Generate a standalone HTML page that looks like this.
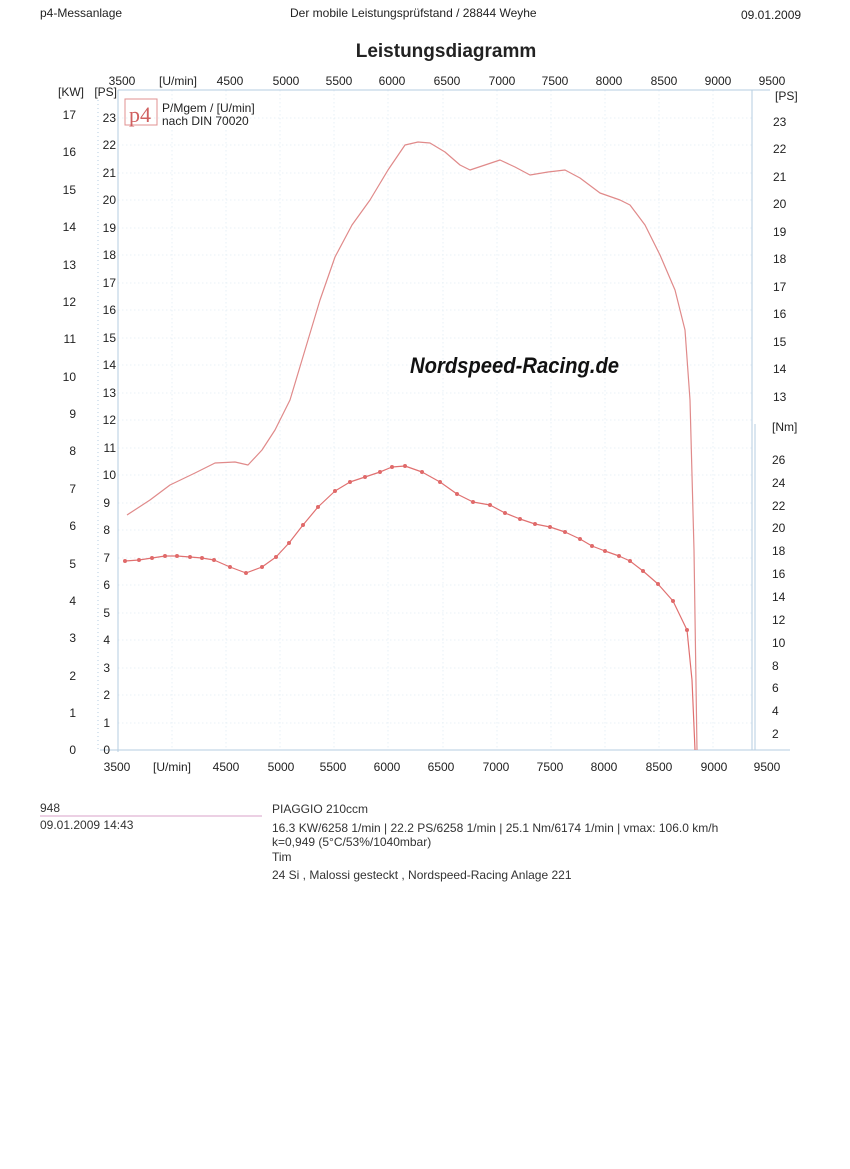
<!DOCTYPE html>
<html><head><meta charset="utf-8"><style>
body{margin:0;background:#fff;}
svg{display:block;font-family:"Liberation Sans",sans-serif;}
</style></head><body>
<svg width="850" height="1169" viewBox="0 0 850 1169" xmlns="http://www.w3.org/2000/svg">
<rect width="850" height="1169" fill="#fff"/>
<g font-size="12" fill="#222">
<text x="40" y="17">p4-Messanlage</text>
<text x="290" y="17">Der mobile Leistungsprüfstand  / 28844 Weyhe</text>
<text x="741" y="19">09.01.2009</text>
</g>
<text x="446" y="57" font-size="19" font-weight="bold" text-anchor="middle" fill="#222">Leistungsdiagramm</text>
<g stroke="#e2edf5" stroke-width="0.8" stroke-dasharray="1.5,2.5">
<line x1="172" y1="90" x2="172" y2="750"/><line x1="226" y1="90" x2="226" y2="750"/><line x1="280" y1="90" x2="280" y2="750"/><line x1="334" y1="90" x2="334" y2="750"/><line x1="388" y1="90" x2="388" y2="750"/><line x1="443" y1="90" x2="443" y2="750"/><line x1="497" y1="90" x2="497" y2="750"/><line x1="551" y1="90" x2="551" y2="750"/><line x1="605" y1="90" x2="605" y2="750"/><line x1="659" y1="90" x2="659" y2="750"/><line x1="713" y1="90" x2="713" y2="750"/>
<line x1="118" y1="723" x2="752" y2="723"/><line x1="118" y1="695" x2="752" y2="695"/><line x1="118" y1="668" x2="752" y2="668"/><line x1="118" y1="640" x2="752" y2="640"/><line x1="118" y1="613" x2="752" y2="613"/><line x1="118" y1="585" x2="752" y2="585"/><line x1="118" y1="558" x2="752" y2="558"/><line x1="118" y1="530" x2="752" y2="530"/><line x1="118" y1="503" x2="752" y2="503"/><line x1="118" y1="475" x2="752" y2="475"/><line x1="118" y1="448" x2="752" y2="448"/><line x1="118" y1="420" x2="752" y2="420"/><line x1="118" y1="393" x2="752" y2="393"/><line x1="118" y1="365" x2="752" y2="365"/><line x1="118" y1="338" x2="752" y2="338"/><line x1="118" y1="310" x2="752" y2="310"/><line x1="118" y1="283" x2="752" y2="283"/><line x1="118" y1="255" x2="752" y2="255"/><line x1="118" y1="228" x2="752" y2="228"/><line x1="118" y1="200" x2="752" y2="200"/><line x1="118" y1="173" x2="752" y2="173"/><line x1="118" y1="145" x2="752" y2="145"/><line x1="118" y1="118" x2="752" y2="118"/>
</g>
<g stroke="#b5cde0" stroke-width="1" fill="none">
<line x1="118" y1="90" x2="770" y2="90"/>
<line x1="118" y1="90" x2="118" y2="752"/>
<line x1="100" y1="750" x2="790" y2="750"/>
<line x1="752" y1="90" x2="752" y2="750"/>
<line x1="755" y1="424" x2="755" y2="750"/>
<line x1="98" y1="100" x2="98" y2="750" stroke-dasharray="1,3"/>
</g>
<g font-size="12" fill="#222" text-anchor="middle">
<text x="122" y="85">3500</text><text x="178" y="85">[U/min]</text><text x="230" y="85">4500</text><text x="286" y="85">5000</text><text x="339" y="85">5500</text><text x="392" y="85">6000</text><text x="447" y="85">6500</text><text x="502" y="85">7000</text><text x="555" y="85">7500</text><text x="609" y="85">8000</text><text x="664" y="85">8500</text><text x="718" y="85">9000</text><text x="772" y="85">9500</text>
<text x="117" y="771">3500</text><text x="172" y="771">[U/min]</text><text x="226" y="771">4500</text><text x="281" y="771">5000</text><text x="333" y="771">5500</text><text x="387" y="771">6000</text><text x="441" y="771">6500</text><text x="496" y="771">7000</text><text x="550" y="771">7500</text><text x="604" y="771">8000</text><text x="659" y="771">8500</text><text x="714" y="771">9000</text><text x="767" y="771">9500</text>
</g>
<g font-size="12" fill="#222" text-anchor="end">
<text x="84" y="96">[KW]</text><text x="117" y="96">[PS]</text>
<text x="76" y="754">0</text><text x="76" y="717">1</text><text x="76" y="680">2</text><text x="76" y="642">3</text><text x="76" y="605">4</text><text x="76" y="568">5</text><text x="76" y="530">6</text><text x="76" y="493">7</text><text x="76" y="455">8</text><text x="76" y="418">9</text><text x="76" y="381">10</text><text x="76" y="343">11</text><text x="76" y="306">12</text><text x="76" y="269">13</text><text x="76" y="231">14</text><text x="76" y="194">15</text><text x="76" y="156">16</text><text x="76" y="119">17</text>
<text x="110" y="754">0</text><text x="110" y="727">1</text><text x="110" y="699">2</text><text x="110" y="672">3</text><text x="110" y="644">4</text><text x="110" y="617">5</text><text x="110" y="589">6</text><text x="110" y="562">7</text><text x="110" y="534">8</text><text x="110" y="507">9</text><text x="116" y="479">10</text><text x="116" y="452">11</text><text x="116" y="424">12</text><text x="116" y="397">13</text><text x="116" y="369">14</text><text x="116" y="342">15</text><text x="116" y="314">16</text><text x="116" y="287">17</text><text x="116" y="259">18</text><text x="116" y="232">19</text><text x="116" y="204">20</text><text x="116" y="177">21</text><text x="116" y="149">22</text><text x="116" y="122">23</text>
</g>
<g font-size="12" fill="#222">
<text x="775" y="100">[PS]</text>
<text x="773" y="401">13</text><text x="773" y="373">14</text><text x="773" y="346">15</text><text x="773" y="318">16</text><text x="773" y="291">17</text><text x="773" y="263">18</text><text x="773" y="236">19</text><text x="773" y="208">20</text><text x="773" y="181">21</text><text x="773" y="153">22</text><text x="773" y="126">23</text>
<text x="772" y="431">[Nm]</text>
<text x="772" y="738">2</text><text x="772" y="715">4</text><text x="772" y="692">6</text><text x="772" y="670">8</text><text x="772" y="647">10</text><text x="772" y="624">12</text><text x="772" y="601">14</text><text x="772" y="578">16</text><text x="772" y="555">18</text><text x="772" y="532">20</text><text x="772" y="510">22</text><text x="772" y="487">24</text><text x="772" y="464">26</text>
</g>
<rect x="125" y="99" width="32" height="26" fill="none" stroke="#e09090"/>
<text x="129" y="122" font-family="Liberation Serif,serif" font-size="22" fill="#d06060">p4</text>
<text x="162" y="112" font-size="12" fill="#222">P/Mgem / [U/min]</text>
<text x="162" y="125" font-size="12" fill="#222">nach DIN 70020</text>
<text x="410" y="373" font-size="22" font-style="italic" font-weight="bold" fill="#111" transform="scale(0.92,1)" style="transform-origin:410px 373px">Nordspeed-Racing.de</text>
<polyline fill="none" stroke="#e08a8a" stroke-width="1.2" stroke-linejoin="round" points="127,515 150,500 170,485 195,473 215,463 235,462 248,465 262,450 275,430 290,400 305,350 320,300 335,257 352,225 370,200 388,170 405,145 418,142 430,143 445,152 460,165 470,170 485,165 500,160 515,167 530,175 548,172 565,170 580,178 600,193 620,200 630,205 645,225 660,255 675,290 685,330 690,400 694,550 697,750"/>
<polyline fill="none" stroke="#e07070" stroke-width="1.2" stroke-linejoin="round" points="125,561 139,560 152,558 165,556 177,556 190,557 202,558 214,560 230,567 246,573 262,567 276,557 289,543 303,525 318,507 335,491 350,482 365,477 380,472 392,467 405,466 422,472 440,482 457,494 473,502 490,505 505,513 520,519 535,524 550,527 565,532 580,539 592,546 605,551 619,556 630,561 643,571 658,584 673,601 687,630 692,680 695,750"/>
<g fill="#e06a6a">
<circle cx="125" cy="561" r="2"/><circle cx="139" cy="560" r="2"/><circle cx="152" cy="558" r="2"/><circle cx="165" cy="556" r="2"/><circle cx="177" cy="556" r="2"/><circle cx="190" cy="557" r="2"/><circle cx="202" cy="558" r="2"/><circle cx="214" cy="560" r="2"/><circle cx="230" cy="567" r="2"/><circle cx="246" cy="573" r="2"/><circle cx="262" cy="567" r="2"/><circle cx="276" cy="557" r="2"/><circle cx="289" cy="543" r="2"/><circle cx="303" cy="525" r="2"/><circle cx="318" cy="507" r="2"/><circle cx="335" cy="491" r="2"/><circle cx="350" cy="482" r="2"/><circle cx="365" cy="477" r="2"/><circle cx="380" cy="472" r="2"/><circle cx="392" cy="467" r="2"/><circle cx="405" cy="466" r="2"/><circle cx="422" cy="472" r="2"/><circle cx="440" cy="482" r="2"/><circle cx="457" cy="494" r="2"/><circle cx="473" cy="502" r="2"/><circle cx="490" cy="505" r="2"/><circle cx="505" cy="513" r="2"/><circle cx="520" cy="519" r="2"/><circle cx="535" cy="524" r="2"/><circle cx="550" cy="527" r="2"/><circle cx="565" cy="532" r="2"/><circle cx="580" cy="539" r="2"/><circle cx="592" cy="546" r="2"/><circle cx="605" cy="551" r="2"/><circle cx="619" cy="556" r="2"/><circle cx="630" cy="561" r="2"/><circle cx="643" cy="571" r="2"/><circle cx="658" cy="584" r="2"/><circle cx="673" cy="601" r="2"/><circle cx="687" cy="630" r="2"/>
</g>
<g font-size="12" fill="#333">
<text x="40" y="812">948</text>
<line x1="40" y1="816" x2="262" y2="816" stroke="#d8a0c8"/>
<text x="40" y="829">09.01.2009  14:43</text>
<text x="272" y="813">PIAGGIO 210ccm</text>
<text x="272" y="832">16.3 KW/6258 1/min  |  22.2 PS/6258 1/min  |  25.1 Nm/6174 1/min | vmax: 106.0 km/h</text>
<text x="272" y="846">k=0,949 (5°C/53%/1040mbar)</text>
<text x="272" y="861">Tim</text>
<text x="272" y="879">24 Si , Malossi gesteckt , Nordspeed-Racing Anlage 221</text>
</g>
</svg>
</body></html>
